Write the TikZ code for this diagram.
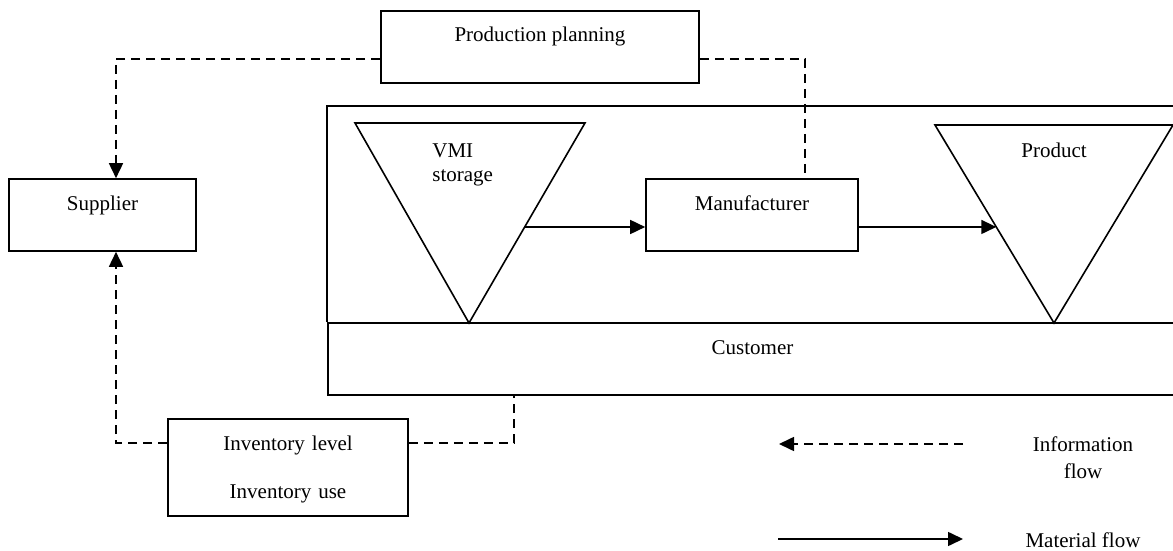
\documentclass[tikz,border=0pt]{standalone}
\usepackage{fontspec}
\setmainfont{Liberation Serif}
\usetikzlibrary{calc}
\usetikzlibrary{arrows.meta}
\tikzset{>={Triangle[length=7.5pt,width=7pt]}}
\tikzset{
  box/.style={draw,line width=0.8pt,inner sep=0pt,text height=15.5pt,text depth=20.5pt,align=center},
  info/.style={line width=0.8pt,dash pattern=on 4.5pt off 3pt},
  matl/.style={line width=0.8pt,->}
}

\begin{document}
\begin{tikzpicture}[x=0.5pt,y=-0.5pt,font=\fontsize{10.5}{12.6}\selectfont]
  \useasboundingbox (0,0) rectangle (1173,551);
  % boxes
  \node[box,minimum width=159pt] (plan) at (540,47) {Production planning};
  \node[box,minimum width=93.5pt] (supplier) at (102.5,215) {Supplier};
  \node[box,minimum width=106pt] (manu) at (752,215) {Manufacturer};
  \node[box,text width=120pt,text depth=33pt] (inv) at (288,467.5) {Inventory level\\[11.4pt]Inventory use};
  \node[box,minimum width=424.5pt] (customer) at (752.5,359) {Customer};
  \draw[line width=0.8pt] (customer.north west) -- ++(0,-216) -| (customer.north east);

  % storage triangles
  \coordinate (vmiL) at (355,123);
  \coordinate (vmiR) at (585,123);
  \coordinate (vmiA) at (469,323);
  \draw[line width=0.8pt] (vmiL) -- (vmiR) -- (vmiA) -- cycle;
  \node[anchor=north west,inner sep=0pt,align=left,font=\fontsize{10.5}{12.2}\selectfont] (vmi) at (432,143) {VMI\\storage};
  \coordinate (prodL) at (935,125);
  \coordinate (prodR) at (1173,125);
  \coordinate (prodA) at (1054,323);
  \draw[line width=0.8pt] (prodL) -- (prodR) -- (prodA) -- cycle;
  \node[anchor=base,inner sep=0pt] (prod) at (1054,158) {Product};

  % material flow
  \coordinate (vmiOut) at ($(vmiR)!0.52!(vmiA)$);
  \coordinate (prodIn) at ($(prodL)!0.515!(prodA)$);
  \draw[matl] (vmiOut) -- (vmiOut -| manu.west);
  \draw[matl] (manu.east |- prodIn) -- (prodIn);

  % information flow
  \draw[info,->] ([yshift=-6pt]plan.west) -| ([xshift=6.75pt]supplier.north);
  \draw[info] ([yshift=-6pt]plan.east) -| ([xshift=26.5pt]manu.north);
  \draw[info,->] ([yshift=12.25pt]inv.west) -| ([xshift=6.75pt]supplier.south);
  \draw[info] ([yshift=12.25pt]inv.east) -| ([xshift=-119.25pt]customer.south);

  % legend
  \coordinate (infoA) at (963,444);
  \coordinate (infoB) at (779,444);
  \draw[info,->] (infoA) -- (infoB);
  \node[anchor=north,inner sep=0pt,align=center,font=\fontsize{10.5}{13.5}\selectfont] (infoTxt) at (1083,436) {Information\\flow};
  \coordinate (matA) at (778,539);
  \coordinate (matB) at (963,539);
  \draw[matl] (matA) -- (matB);
  \node[anchor=base,inner sep=0pt] (matTxt) at (1083,547) {Material flow};
\end{tikzpicture}
\end{document}
